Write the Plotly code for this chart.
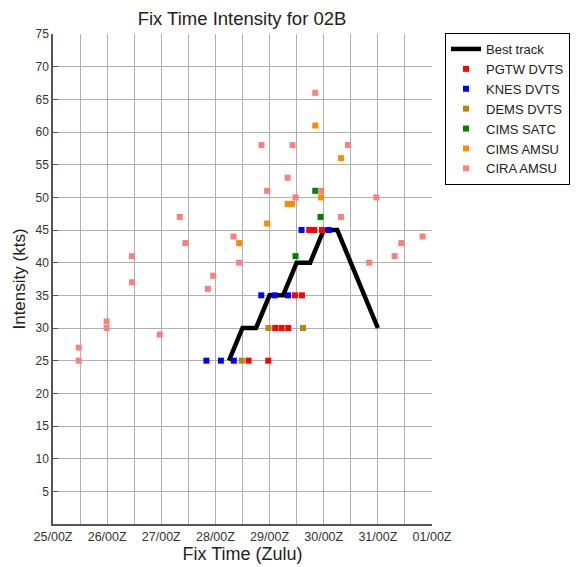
import plotly.graph_objects as go

# ---- data (times are DD/HH:MM Zulu, month with 31 days) ----
best_time = ["28/06:00", "28/12:00", "28/18:00", "29/00:00", "29/06:00", "29/12:00",
             "29/18:00", "30/00:00", "30/06:00", "30/12:00", "30/18:00", "31/00:00"]
best_int = [25, 30, 30, 35, 35, 40, 40, 45, 45, 40, 35, 30]

pgtw_time = ["28/14:40", "28/23:25", "29/02:30", "29/05:20", "29/08:15", "29/11:15",
             "29/14:20", "29/17:35", "29/19:50", "29/23:15"]
pgtw_int = [25, 25, 30, 30, 30, 35, 35, 45, 45, 45]

knes_time = ["27/20:00", "28/02:25", "28/08:10", "28/20:20", "29/02:10", "29/08:10",
             "29/14:10", "30/02:10"]
knes_int = [25, 25, 25, 35, 35, 35, 45, 45]

dems_time = ["28/11:40", "28/23:30", "29/14:50"]
dems_int = [25, 30, 30]

satc_time = ["29/11:30", "29/20:15", "29/22:35"]
satc_int = [41, 51, 47]

cims_amsu_time = ["28/10:30", "28/22:55", "29/08:00", "29/10:00", "29/20:15", "29/22:50",
                  "30/07:40"]
cims_amsu_int = [43, 46, 49, 49, 61, 50, 56]

cira_time = ["25/11:25", "25/11:25", "25/23:45", "25/23:45", "26/11:00", "26/11:00",
             "26/23:20", "27/08:10", "27/10:40", "27/20:40", "27/23:00", "28/08:00",
             "28/10:30", "28/20:25", "28/22:55", "29/08:00", "29/10:10", "29/11:30",
             "29/20:15", "29/22:55", "30/07:40", "30/10:45", "30/20:10", "30/23:20",
             "31/07:25", "31/10:25", "31/19:50"]
cira_int = [27, 25, 31, 30, 41, 37, 29, 47, 43, 36, 38, 44, 40, 58, 51, 53, 58, 50,
            66, 51, 47, 58, 40, 50, 41, 43, 44]

x_range = ["25/00:00", "01/00:00"]
y_ticks = [5, 10, 15, 20, 25, 30, 35, 40, 45, 50, 55, 60, 65, 70, 75]

YEAR, MONTH = 2023, 10


def to_dt(s):
    d, hm = s.split("/")
    day = int(d)
    month = MONTH if day >= 20 else MONTH + 1
    return f"{YEAR}-{month:02d}-{day:02d} {hm}"


FONT = "Liberation Sans, Arial, sans-serif"

# the page body has an 8px margin, so the figure is 8px smaller than the window
W, H = 570, 559
L, R, T, B = 45, 146, 26, 43
PW, PH = W - L - R, H - T - B

fig = go.Figure()
fig.add_trace(go.Scatter(x=[to_dt(t) for t in best_time], y=best_int, mode="lines",
                         name="Best track", line=dict(color="black", width=4.5)))

series = [
    ("PGTW DVTS", pgtw_time, pgtw_int, "#ff0000"),
    ("KNES DVTS", knes_time, knes_int, "#0000ff"),
    ("DEMS DVTS", dems_time, dems_int, "#b8860b"),
    ("CIMS SATC", satc_time, satc_int, "#008000"),
    ("CIMS AMSU", cims_amsu_time, cims_amsu_int, "#ff8c00"),
    ("CIRA AMSU", cira_time, cira_int, "#ff8080"),
]
for name, t, v, c in series:
    fig.add_trace(go.Scatter(x=[to_dt(s) for s in t], y=v, mode="markers", name=name,
                             marker=dict(symbol="square", size=6, color=c,
                                         line=dict(width=0))))

fig.update_layout(
    width=W, height=H,
    margin=dict(l=L, r=R, t=T, b=B, autoexpand=False),
    paper_bgcolor="white", plot_bgcolor="white",
    font=dict(family=FONT, size=12, color="#222"),
    title=dict(text="Fix Time Intensity for 02B", x=234 / W, xanchor="center",
               y=1 - 11 / H, yanchor="middle",
               font=dict(size=18.5, color="#222")),
    showlegend=True,
    legend=dict(x=(437 - L) / PW, xanchor="left", y=1 + 1 / PH, yanchor="top",
                bordercolor="black", borderwidth=1, bgcolor="white",
                font=dict(size=13, color="#222"), tracegroupgap=0),
)
fig.update_xaxes(
    type="date", range=[to_dt(x_range[0]), to_dt(x_range[1])],
    dtick=86400000, tick0=to_dt(x_range[0]), tickformat="%d/%HZ",
    showgrid=True, gridcolor="#b0b0b0", gridwidth=1,
    minor=dict(dtick=43200000, showgrid=True, gridcolor="#b0b0b0", gridwidth=1),
    showline=True, linecolor="#555", linewidth=1.5, ticks="",
    tickfont=dict(size=12.5, color="#333"),
    title=dict(text="Fix Time (Zulu)", font=dict(size=18, color="#222"), standoff=2),
    zeroline=False, automargin=False,
)
fig.update_yaxes(
    range=[0, 75], tickvals=y_ticks, ticktext=[str(v) for v in y_ticks],
    showgrid=True, gridcolor="#b0b0b0", gridwidth=1,
    showline=True, linecolor="#555", linewidth=1.5,
    ticks="inside", ticklen=5, tickcolor="#555",
    tickfont=dict(size=12, color="#333"),
    title=dict(text="Intensity (kts)", font=dict(size=17, color="#222"), standoff=6),
    zeroline=False, automargin=False,
)

fig.write_html("out.html")
